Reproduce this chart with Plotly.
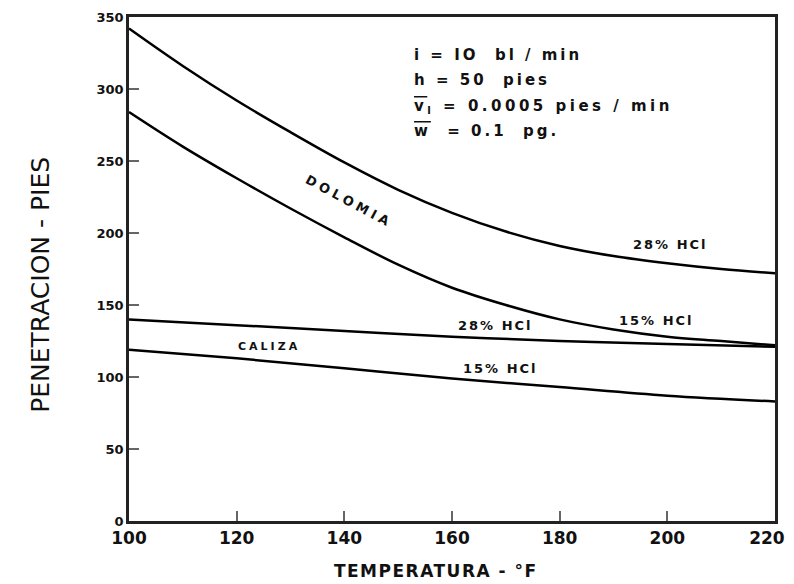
import plotly.graph_objects as go

temps = [100, 110, 120, 130, 140, 150, 160, 170, 180, 190, 200, 210, 220]
dolomia_28 = [342, 316, 292, 270, 249, 230, 214, 201, 191, 184, 179, 175, 172]
dolomia_15 = [284, 260, 238, 217, 197, 178, 162, 150, 140, 133, 128, 125, 122]

temps_c = [100, 120, 140, 160, 180, 200, 220]
caliza_28 = [140, 136, 132, 128, 125, 123, 121]
caliza_15 = [119, 113, 106, 99, 93, 87, 83]

x_ticks = [100, 120, 140, 160, 180, 200, 220]
y_ticks = [0, 50, 100, 150, 200, 250, 300, 350]

FONT = "DejaVu Sans"
line = dict(color="black", width=2.5, shape="spline", smoothing=1.0)

fig = go.Figure()
for xs, ys in [(temps, dolomia_28), (temps, dolomia_15), (temps_c, caliza_28), (temps_c, caliza_15)]:
    fig.add_trace(go.Scatter(x=xs, y=ys, mode="lines", line=line, showlegend=False, hoverinfo="skip"))

ann = []
def t(x, y, text, size=13, angle=0, xanchor="center", ls=2):
    ann.append(dict(x=x, y=y, xref="x", yref="y",
                    text=f"<span style='letter-spacing:{ls}px'><b>{text}</b></span>", showarrow=False,
                    font=dict(family=FONT, size=size, color="#111"), textangle=angle, xanchor=xanchor))

t(152.5, 323.5, "i = IO  bl / min", 15, xanchor="left", ls=3)
t(152.5, 306, "h = 50  pies", 15, xanchor="left", ls=3)
t(152.5, 288, "<span style='text-decoration:overline'>v</span><sub>l</sub> = 0.0005 pies / min", 15, xanchor="left", ls=3.5)
t(152.5, 270.5, "<span style='text-decoration:overline'>w</span>  = 0.1  pg.", 15, xanchor="left", ls=3)
t(141, 222, "DOLOMIA", 13, angle=28, ls=4)
t(200.5, 192, "28% HCl", 13)
t(198, 139.5, "15% HCl", 13)
t(168, 135.5, "28% HCl", 13)
t(126, 121.5, "CALIZA", 11, ls=3)
t(169, 106, "15% HCl", 13)

x_text = [f"<b>{v}</b>" for v in x_ticks]
x_text[-1] = "<b>220</b>&nbsp;&nbsp;&nbsp;"

# page body has an 8px margin: shrink figure so the plot area lands where the reference has it
fig.update_layout(
    width=786, height=576,
    margin=dict(l=121, r=19, t=9, b=63),
    paper_bgcolor="white", plot_bgcolor="white",
    font=dict(family=FONT, color="#111"),
    annotations=ann,
    xaxis=dict(range=[100, 220], tickvals=x_ticks, ticktext=x_text,
               automargin=False, ticklabeloverflow="allow",
               showgrid=False, zeroline=False, showline=True, linecolor="#222", linewidth=2.5,
               mirror=True, ticks="inside", ticklen=10, tickwidth=1.5, tickcolor="#666",
               tickfont=dict(size=17),
               title=dict(text="<span style='letter-spacing:1.5px'><b>TEMPERATURA - °F</b></span>&nbsp;&nbsp;&nbsp;&nbsp;&nbsp;&nbsp;",
                          font=dict(size=17), standoff=18)),
    yaxis=dict(range=[0, 350], tickvals=y_ticks, ticktext=[f"<b>{v}</b>" for v in y_ticks],
               automargin=False,
               showgrid=False, zeroline=False, showline=True, linecolor="#222", linewidth=2.5,
               mirror=True, ticks="inside", ticklen=10, tickwidth=1.5, tickcolor="#666",
               tickfont=dict(size=13),
               title=dict(text="PENETRACION - PIES&nbsp;&nbsp;&nbsp;&nbsp;", font=dict(size=25), standoff=40)),
)

fig.write_html("out.html")
